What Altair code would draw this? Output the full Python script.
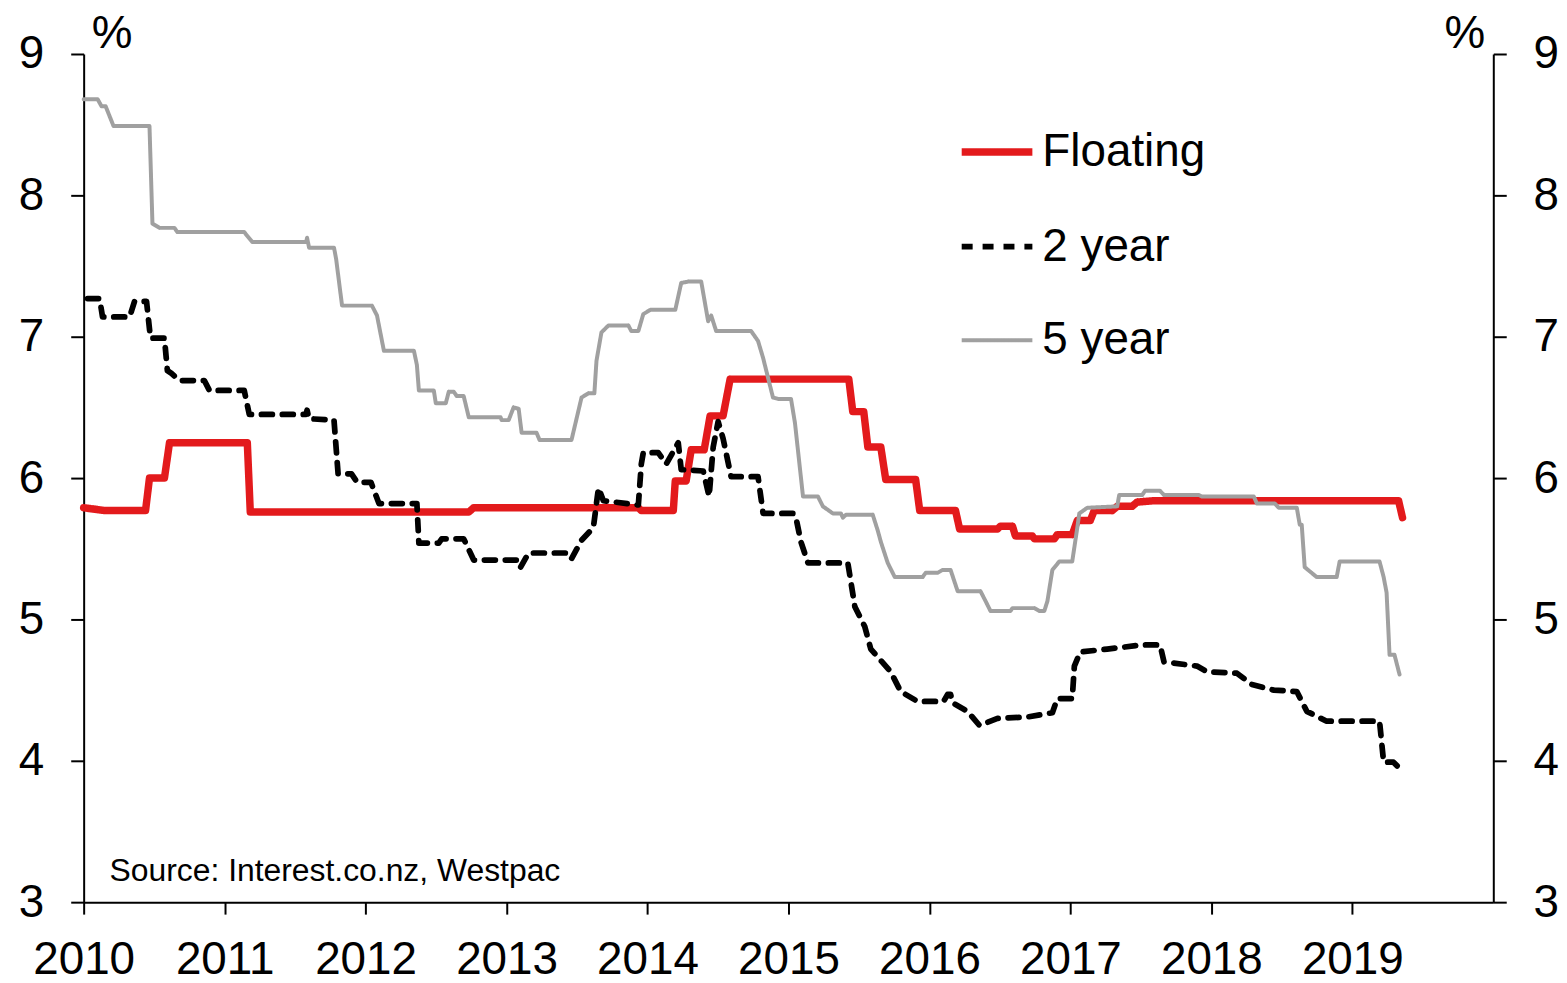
import altair as alt
import pandas as pd

FONT = "Liberation Sans"

series_names = ["Floating", "2 year", "5 year"]
series_colors = ["#E31A1C", "#000000", "#A0A0A0"]
series_dash = [[1, 0], [11, 10], [1, 0]]
series_width = [7.5, 4, 3.5]

floating_dates = [2010.000, 2010.149, 2010.439, 2010.467, 2010.573, 2010.609, 2011.161, 2011.182,
                  2012.732, 2012.767, 2013.935, 2013.956, 2014.183, 2014.197, 2014.274, 2014.310,
                  2014.402, 2014.444, 2014.536, 2014.586, 2015.428, 2015.456, 2015.534, 2015.563,
                  2015.655, 2015.690, 2015.902, 2015.931, 2016.185, 2016.214, 2016.483, 2016.504,
                  2016.589, 2016.610, 2016.730, 2016.745, 2016.886, 2016.907, 2017.013, 2017.049,
                  2017.141, 2017.169, 2017.297, 2017.332, 2017.438, 2017.473, 2017.594, 2019.328,
                  2019.356]
floating_rates = [5.79, 5.77, 5.77, 6.00, 6.00, 6.25, 6.25, 5.76,
                  5.76, 5.79, 5.79, 5.77, 5.77, 5.98, 5.98, 6.20,
                  6.20, 6.44, 6.44, 6.70, 6.70, 6.47, 6.47, 6.22,
                  6.22, 5.99, 5.99, 5.77, 5.77, 5.64, 5.64, 5.66,
                  5.66, 5.59, 5.59, 5.57, 5.57, 5.60, 5.60, 5.70,
                  5.70, 5.77, 5.77, 5.80, 5.80, 5.83, 5.84, 5.84,
                  5.72]

two_year_dates = [2010.028, 2010.113, 2010.134, 2010.326, 2010.361, 2010.446, 2010.474, 2010.573,
                  2010.594, 2010.623, 2010.679, 2010.856, 2010.892, 2011.139, 2011.175, 2011.578,
                  2011.585, 2011.599, 2011.776, 2011.805, 2011.900, 2011.940, 2012.038, 2012.095,
                  2012.364, 2012.378, 2012.519, 2012.540, 2012.696, 2012.767, 2013.086, 2013.100,
                  2013.156, 2013.439, 2013.461, 2013.532, 2013.616, 2013.652, 2013.687, 2013.935,
                  2013.956, 2013.970, 2014.076, 2014.133, 2014.218, 2014.239, 2014.395, 2014.437,
                  2014.466, 2014.501, 2014.536, 2014.593, 2014.784, 2014.820, 2015.032, 2015.053,
                  2015.088, 2015.138, 2015.421, 2015.471, 2015.541, 2015.584, 2015.725, 2015.796,
                  2015.916, 2016.100, 2016.129, 2016.150, 2016.164, 2016.270, 2016.355, 2016.483,
                  2016.695, 2016.872, 2016.907, 2017.013, 2017.028, 2017.070, 2017.261, 2017.509,
                  2017.636, 2017.664, 2017.898, 2017.969, 2018.181, 2018.287, 2018.443, 2018.606,
                  2018.677, 2018.818, 2019.193, 2019.222, 2019.292, 2019.342]
two_year_rates = [7.27, 7.27, 7.14, 7.14, 7.25, 7.25, 6.99, 6.99,
                  6.76, 6.74, 6.69, 6.69, 6.62, 6.62, 6.45, 6.45,
                  6.48, 6.42, 6.41, 6.03, 6.03, 5.97, 5.97, 5.82,
                  5.82, 5.54, 5.54, 5.57, 5.57, 5.42, 5.42, 5.37,
                  5.47, 5.47, 5.43, 5.56, 5.65, 5.93, 5.84, 5.81,
                  6.10, 6.18, 6.18, 6.10, 6.25, 6.06, 6.05, 5.87,
                  6.22, 6.40, 6.28, 6.01, 6.01, 5.75, 5.75, 5.72,
                  5.55, 5.40, 5.40, 5.09, 4.95, 4.79, 4.63, 4.49,
                  4.42, 4.42, 4.47, 4.47, 4.41, 4.35, 4.25, 4.30,
                  4.31, 4.34, 4.44, 4.44, 4.67, 4.77, 4.79, 4.82,
                  4.82, 4.70, 4.67, 4.63, 4.62, 4.54, 4.50, 4.49,
                  4.35, 4.28, 4.28, 3.99, 3.99, 3.94]

five_year_dates = [2010.000, 2010.099, 2010.127, 2010.156, 2010.212, 2010.467, 2010.488, 2010.538,
                   2010.644, 2010.665, 2011.139, 2011.196, 2011.578, 2011.585, 2011.599, 2011.776,
                   2011.791, 2011.833, 2012.045, 2012.081, 2012.130, 2012.343, 2012.364, 2012.378,
                   2012.484, 2012.498, 2012.569, 2012.590, 2012.626, 2012.647, 2012.696, 2012.732,
                   2012.958, 2012.965, 2013.015, 2013.050, 2013.086, 2013.107, 2013.213, 2013.234,
                   2013.461, 2013.532, 2013.581, 2013.623, 2013.638, 2013.673, 2013.723, 2013.864,
                   2013.885, 2013.935, 2013.970, 2014.020, 2014.197, 2014.239, 2014.289, 2014.381,
                   2014.430, 2014.452, 2014.487, 2014.735, 2014.784, 2014.820, 2014.890, 2014.926,
                   2015.018, 2015.046, 2015.103, 2015.209, 2015.244, 2015.315, 2015.372, 2015.386,
                   2015.407, 2015.598, 2015.633, 2015.655, 2015.704, 2015.754, 2015.952, 2015.973,
                   2016.058, 2016.093, 2016.150, 2016.200, 2016.362, 2016.398, 2016.433, 2016.575,
                   2016.589, 2016.745, 2016.780, 2016.815, 2016.837, 2016.872, 2016.921, 2017.013,
                   2017.049, 2017.063, 2017.120, 2017.332, 2017.346, 2017.509, 2017.530, 2017.636,
                   2017.664, 2017.912, 2017.933, 2018.301, 2018.323, 2018.450, 2018.478, 2018.606,
                   2018.627, 2018.641, 2018.662, 2018.747, 2018.889, 2018.910, 2019.193, 2019.222,
                   2019.243, 2019.264, 2019.299, 2019.335]
five_year_rates = [8.68, 8.68, 8.63, 8.63, 8.49, 8.49, 7.80, 7.77,
                   7.77, 7.74, 7.74, 7.67, 7.67, 7.70, 7.63, 7.63,
                   7.55, 7.22, 7.22, 7.15, 6.90, 6.90, 6.80, 6.62,
                   6.62, 6.53, 6.53, 6.61, 6.61, 6.58, 6.58, 6.43,
                   6.43, 6.41, 6.41, 6.50, 6.49, 6.32, 6.32, 6.27,
                   6.27, 6.57, 6.60, 6.60, 6.83, 7.03, 7.08, 7.08,
                   7.04, 7.04, 7.16, 7.19, 7.19, 7.38, 7.39, 7.39,
                   7.11, 7.15, 7.04, 7.04, 6.97, 6.85, 6.57, 6.56,
                   6.56, 6.39, 5.87, 5.87, 5.80, 5.75, 5.75, 5.72,
                   5.74, 5.74, 5.63, 5.55, 5.40, 5.30, 5.30, 5.33,
                   5.33, 5.35, 5.35, 5.20, 5.20, 5.13, 5.06, 5.06,
                   5.08, 5.08, 5.06, 5.06, 5.13, 5.35, 5.41, 5.41,
                   5.65, 5.75, 5.79, 5.80, 5.88, 5.88, 5.91, 5.91,
                   5.88, 5.88, 5.87, 5.87, 5.82, 5.82, 5.79, 5.79,
                   5.67, 5.67, 5.37, 5.30, 5.30, 5.41, 5.41, 5.30,
                   5.19, 4.75, 4.75, 4.61]

x_ticks = list(range(2010, 2020))
y_ticks = [3, 4, 5, 6, 7, 8, 9]
source_text = "Source: Interest.co.nz, Westpac"

rows = []
for name, ds, rs in [("Floating", floating_dates, floating_rates),
                     ("2 year", two_year_dates, two_year_rates),
                     ("5 year", five_year_dates, five_year_rates)]:
    n = min(len(ds), len(rs))
    for i in range(n):
        rows.append({"series": name, "year": ds[i], "rate": rs[i], "idx": i})
df = pd.DataFrame(rows)

x_enc = alt.X("year:Q",
              scale=alt.Scale(domain=[2010, 2020], nice=False, zero=False),
              axis=alt.Axis(values=x_ticks, format="d", title=None, labelPadding=24,
                            tickSize=12, labelFlush=False, labelOverlap=False))
y_scale = alt.Scale(domain=[3, 9], nice=False, zero=False)

color_enc = alt.Color("series:N", scale=alt.Scale(domain=series_names, range=series_colors),
                      legend=alt.Legend(title=None))
dash_enc = alt.StrokeDash("series:N", scale=alt.Scale(domain=series_names, range=series_dash),
                          legend=alt.Legend(title=None))
width_enc = alt.StrokeWidth("series:N", scale=alt.Scale(domain=series_names, range=series_width),
                            legend=alt.Legend(title=None))

y_left = alt.Y("rate:Q", scale=y_scale,
               axis=alt.Axis(orient="left", values=y_ticks, title="%", titleAngle=0,
                             titleX=28, titleY=-7, titleAlign="center",
                             titleBaseline="alphabetic", labelPadding=27, tickSize=13))

def series_layer(name):
    return alt.Chart(df).transform_filter(alt.datum.series == name).mark_line(
        strokeCap="round", strokeJoin="round"
    ).encode(x=x_enc, y=y_left, color=color_enc, strokeDash=dash_enc,
             strokeWidth=width_enc, order=alt.Order("idx:Q"))

source_layer = alt.Chart(pd.DataFrame({"label": [source_text]})).mark_text(
    align="left", baseline="alphabetic", fontSize=32, font=FONT, color="black"
).encode(x=alt.value(26), y=alt.value(831), text="label:N")

inner = alt.layer(series_layer("Floating"), series_layer("2 year"), series_layer("5 year"),
                  source_layer)

right_layer = alt.Chart(df).transform_filter(alt.datum.series == "Floating").mark_line(
    opacity=0
).encode(
    x=x_enc,
    y=alt.Y("rate:Q", scale=y_scale,
            axis=alt.Axis(orient="right", values=y_ticks, title="%", titleAngle=0,
                          titleX=-29, titleY=-7, titleAlign="center",
                          titleBaseline="alphabetic", labelPadding=27, tickSize=13)),
)

chart = alt.layer(inner, right_layer).resolve_scale(y="independent").properties(
    width=1416, height=852,
    padding={"left": 76, "top": 44, "right": 66, "bottom": 80},
    autosize=alt.AutoSizeParams(type="none"),
).configure_view(stroke=None).configure_axis(
    grid=False, domainColor="black", domainWidth=2, tickColor="black", tickWidth=2,
    labelColor="black", labelFont=FONT, labelFontSize=46,
    titleFont=FONT, titleFontSize=46, titleFontWeight="normal", titleColor="black",
).configure_legend(
    orient="none", legendX=878, legendY=59, symbolType="stroke", symbolSize=5041,
    labelFont=FONT, labelFontSize=46, labelColor="black", rowPadding=33, labelOffset=6,
    padding=0, labelLimit=0,
)

chart.save("out.html", embed_options={"renderer": "svg", "actions": False})
